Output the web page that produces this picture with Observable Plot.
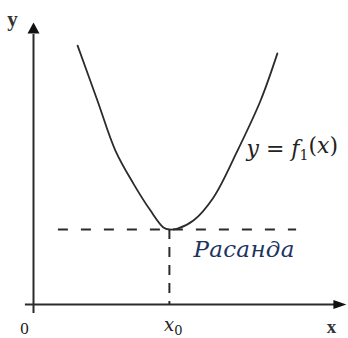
<!DOCTYPE html>
<html>
<head>
<meta charset="utf-8">
<script src="https://cdn.jsdelivr.net/npm/d3@7"></script>
<script src="https://cdn.jsdelivr.net/npm/@observablehq/plot@0.6"></script>
<style>
  html, body { margin: 0; padding: 0; background: #fff; }
  svg { display: block; }
</style>
</head>
<body>
<div id="chart"></div>
<script>
// Curve y = f1(x) (units: axis origin at 0,0)
const curveX = [1.47, 2.13, 2.73, 3.33, 3.9, 4.33, 4.53, 4.8, 5.33, 6.0, 6.8, 7.57, 8.13];
const curveY = [8.63, 6.8, 5.13, 4.03, 3.13, 2.57, 2.5, 2.53, 2.8, 3.57, 5.13, 6.8, 8.37];

// Minimum point and the dashed level line
const x0Value = 4.53;
const minValue = 2.5;
const levelFrom = [0.83];
const levelTo = [8.77];

// Axis extents
const xAxisExtent = [-0.27, 10.1, 10.43];
const yAxisExtent = [-0.3, 9.0, 9.4];

// Text labels
const axisLabels = ["y", "x"];
const originLabel = ["0"];
const tickLabel = ["x0"];
const curveLabel = ["y = f1(x)"];
const levelLabel = ["Расанда"];

const curve = curveX.map((x, i) => ({x, y: curveY[i]}));

const upTriangle = {draw(ctx) { ctx.moveTo(0, 0); ctx.lineTo(6, 11); ctx.lineTo(-6, 11); ctx.closePath(); }};
const rightTriangle = {draw(ctx) { ctx.moveTo(0, 0); ctx.lineTo(-13, 4.5); ctx.lineTo(-13, -4.5); ctx.closePath(); }};

const ink = "#2b2b2b";
const serif = "Liberation Serif, serif";
const wideSerif = "DejaVu Serif, serif";

const plot = Plot.plot({
  width: 348,
  height: 338,
  margin: 0,
  x: {domain: [-1.1, 10.5], range: [0, 348], axis: null},
  y: {domain: [-34 / 30, 304 / 30], range: [338, 0], axis: null},
  style: {background: "#fff"},
  marks: [
    // axes
    Plot.ruleY([0], {x1: xAxisExtent[0], x2: xAxisExtent[1], stroke: ink, strokeWidth: 2}),
    Plot.ruleX([0], {y1: yAxisExtent[0], y2: yAxisExtent[1], stroke: ink, strokeWidth: 2}),
    Plot.dot([{x: xAxisExtent[2], y: 0}], {x: "x", y: "y", symbol: rightTriangle, fill: "#111", stroke: null}),
    Plot.dot([{x: 0, y: yAxisExtent[2]}], {x: "x", y: "y", symbol: upTriangle, fill: "#111", stroke: null}),
    // dashed guides
    Plot.ruleY([minValue], {x1: levelFrom[0], x2: levelTo[0], stroke: ink, strokeWidth: 2, strokeDasharray: "10,13"}),
    Plot.ruleX([x0Value], {y1: minValue, y2: 0, stroke: ink, strokeWidth: 2, strokeDasharray: "10,8"}),
    // curve
    Plot.line(curve, {x: "x", y: "y", curve: "catmull-rom", stroke: ink, strokeWidth: 1.8}),
    // labels
    Plot.text([axisLabels[0]], {x: -0.7, y: 9.5, text: d => d, fontFamily: serif, fontSize: 21, fontWeight: "bold", fill: "#333"}),
    Plot.text([axisLabels[1]], {x: 9.93, y: -0.74, text: d => d, fontFamily: serif, fontSize: 19, fontWeight: "bold", fill: "#333"}),
    Plot.text(originLabel, {x: -0.3, y: -0.8, text: d => d, fontFamily: serif, fontSize: 17, fill: "#222"}),
    Plot.text(tickLabel, {x: 4.66, y: -0.7, text: d => d, fontFamily: wideSerif, fontSize: 18, fill: "#222"}),
    Plot.text(curveLabel, {x: 7.1, y: 5.2, text: d => d, textAnchor: "start", fontFamily: wideSerif, fontSize: 22, fill: "#222"}),
    Plot.text(levelLabel, {x: 5.33, y: 1.82, text: d => d, textAnchor: "start", fontFamily: wideSerif, fontSize: 23, fontStyle: "italic", fill: "#1c3461"})
  ]
});

// Typeset the formula and the tick label with italic variables and subscripts
const svg = d3.select(plot);
svg.selectAll("text").filter(function() { return this.textContent === curveLabel[0]; }).each(function() {
  const t = d3.select(this).text("");
  t.append("tspan").attr("font-style", "italic").text("y");
  t.append("tspan").text(" = ");
  t.append("tspan").attr("font-style", "italic").text("f");
  t.append("tspan").attr("font-size", 14).attr("dy", "0.3em").text("1");
  t.append("tspan").attr("dy", "-0.3em").text("(");
  t.append("tspan").attr("font-style", "italic").text("x");
  t.append("tspan").text(")");
});
svg.selectAll("text").filter(function() { return this.textContent === tickLabel[0]; }).each(function() {
  const t = d3.select(this).text("");
  t.append("tspan").attr("font-style", "italic").text("x");
  t.append("tspan").attr("font-size", 13).attr("dy", "0.25em").text("0");
});
svg.selectAll("text").filter(function() { return this.textContent === levelLabel[0]; })
  .attr("letter-spacing", 0.3);

document.getElementById("chart").appendChild(plot);
</script>
</body>
</html>
